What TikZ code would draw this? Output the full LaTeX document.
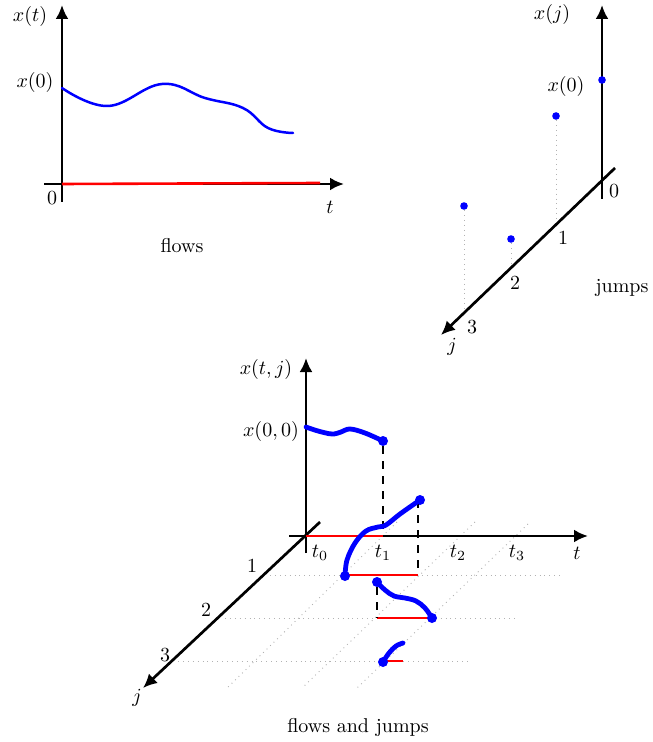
\documentclass[tikz,border=0pt]{standalone}
\usepackage{amsmath}
\usetikzlibrary{arrows.meta}

\begin{document}
\begin{tikzpicture}[x=0.5pt,y=-0.5pt,>={Latex[length=7pt,width=6.5pt]},
  axisline/.style={line width=1.35pt},
  flowtop/.style={blue,line width=1.25pt,line cap=round},
  flowarc/.style={blue,line width=2.4pt,line cap=round},
  domline/.style={red,line width=1pt},
  jumpline/.style={black,line width=1pt,dash pattern=on 4pt off 3.5pt},
  gridline/.style={black!30,line width=0.45pt,dotted},
  dotmark/.style={circle,fill=blue,inner sep=0pt,minimum size=5pt},
  smalldot/.style={circle,fill=blue,inner sep=0pt,minimum size=3.8pt}]
\useasboundingbox (0,0) rectangle (652,742);

% flows
\coordinate (fo) at (62,184);
\draw[axisline,->] (62,202) -- (62,5);
\draw[axisline,->] (44,184) -- (344,184);
\draw[domline,line width=1.3pt] (fo) -- (320,183);
\draw[flowtop] plot[smooth,tension=0.7] coordinates {(62,88) (108,106) (162,84) (205,98) (243,108) (268,128) (293,133)};
\node (fxt) at (30,17) {$x(t)$};
\node (fx0) at (35,83) {$x(0)$};
\node (fzero) at (52,198) {$0$};
\node (ft) at (330,207) {$t$};
\node (flows) at (182,246) {flows};

% jumps
\coordinate (jo) at (602,181);
\draw[axisline,->] (602,199) -- (602,5);
\draw[axisline,->] (615,168) -- (441,335);
\node[smalldot] (jd0) at (602,80) {};
\node[smalldot] (jd1) at (556,116) {};
\node[smalldot] (jd2) at (511,239) {};
\node[smalldot] (jd3) at (464,206) {};
\coordinate (jt1) at (556,223);
\coordinate (jt2) at (511,267);
\coordinate (jt3) at (464,309);
\draw[gridline] (jd1) -- (jt1);
\draw[gridline] (jd2) -- (jt2);
\draw[gridline] (jd3) -- (jt3);
\node (jxj) at (552,15) {$x(j)$};
\node (jx0) at (566,87) {$x(0)$};
\node (jl0) at (614,191) {$0$};
\node (jl1) at (563,238) {$1$};
\node (jl2) at (515,283) {$2$};
\node (jl3) at (472,327) {$3$};
\node (jj) at (452,347) {$j$};
\node (jumps) at (622,288) {jumps};

% flows and jumps
\coordinate (ho) at (306,536);
\draw[gridline] (270,575) -- (560,575);
\draw[gridline] (225,618) -- (515,618);
\draw[gridline] (178,661) -- (471,661);
\draw[gridline] (397,522) -- (227,688);
\draw[gridline] (475,522) -- (302,688);
\draw[gridline] (528,524) -- (357,688);
\draw[axisline,->] (306,553) -- (306,358);
\draw[axisline,->] (289,536) -- (588,536);
\draw[axisline,->] (320,522) -- (143,688);
\draw[domline] (ho) -- (383,536);
\draw[domline] (345,575) -- (418,575);
\draw[domline] (377,618) -- (432,618);
\draw[domline] (383,661) -- (403,661);
\node[dotmark] (hp0) at (383,441) {};
\node[dotmark] (hq1) at (345,576) {};
\node[dotmark] (hp1) at (420,500) {};
\node[dotmark] (hq2) at (377,582) {};
\node[dotmark] (hp2) at (432,618) {};
\node[dotmark] (hq3) at (383,662) {};
\coordinate (ht1) at (383,536);
\coordinate (ht2) at (418,575);
\coordinate (ht3) at (377,618);
\draw[jumpline] (hp0) -- (ht1);
\draw[jumpline] (418,500) -- (ht2);
\draw[jumpline] (hq2) -- (ht3);
\draw[flowarc] plot[smooth,tension=0.6] coordinates {(306,427) (318,431) (332,434) (341,432) (350,429) (365,433) (383,441)};
\draw[flowarc] plot[smooth,tension=0.6] coordinates {(345,576) (347,560) (355,543) (366,531) (378,527) (386,525) (400,514) (420,500)};
\draw[flowarc] plot[smooth,tension=0.6] coordinates {(377,582) (385,590) (394,596) (405,598) (416,601) (425,608) (432,618)};
\draw[flowarc] plot[smooth,tension=0.6] coordinates {(383,662) (389,653) (396,646) (403,643)};
\node (hxtj) at (266,369) {$x(t,j)$};
\node (hx00) at (271,431) {$x(0,0)$};
\node (ht0l) at (320,553) {$t_0$};
\node (ht1l) at (383,553) {$t_1$};
\node (ht2l) at (458,553) {$t_2$};
\node (ht3l) at (517,553) {$t_3$};
\node (htl) at (577,553) {$t$};
\node (hj1) at (252,566) {$1$};
\node (hj2) at (206,610) {$2$};
\node (hj3) at (165,655) {$3$};
\node (hjl) at (137,698) {$j$};
\node (hcap) at (358,727) {flows and jumps};
\end{tikzpicture}
\end{document}
